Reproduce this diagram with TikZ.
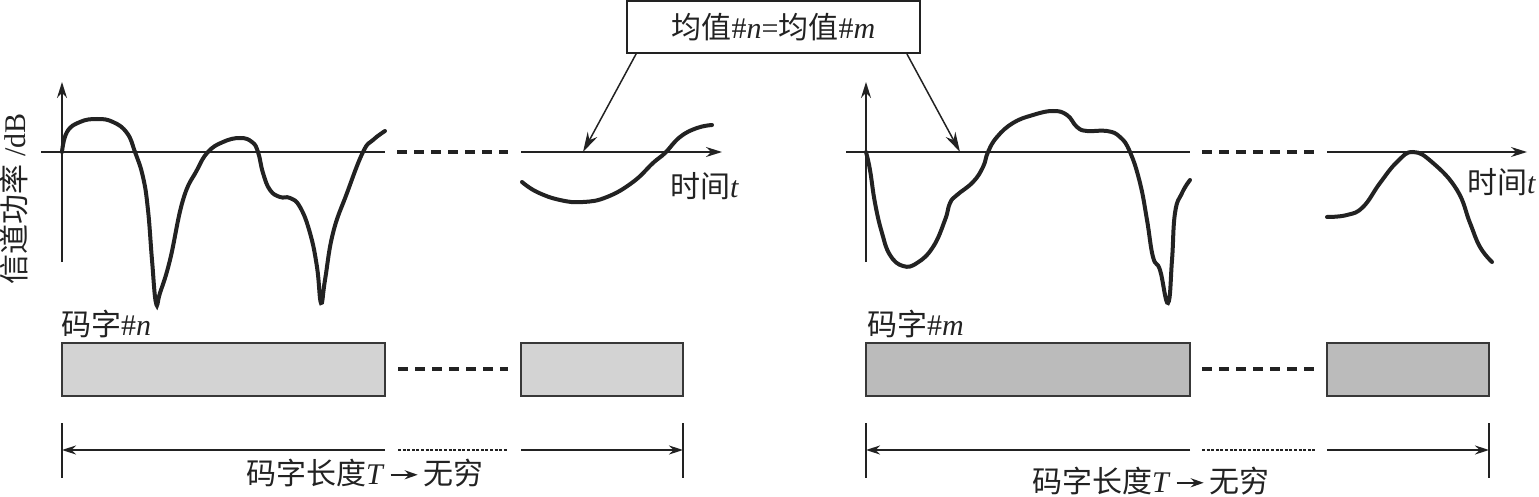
\documentclass[tikz,border=0pt]{standalone}
\usepackage{fontspec}
\setmainfont{Liberation Serif}
\newfontfamily\cjk{Noto Sans CJK SC}
\usetikzlibrary{arrows.meta,calc}
\definecolor{ink}{HTML}{222222}
\definecolor{boxa}{HTML}{D3D3D3}
\definecolor{boxb}{HTML}{BBBBBB}
\begin{document}
\begin{tikzpicture}[x=1pt,y=-1pt,
  every node/.style={font=\fontsize{30}{36}\selectfont, text=ink, inner sep=0pt},
  axisline/.style={draw=ink, line width=1.6pt},
  axisarrow/.style={axisline, -{Stealth[length=16pt,width=10pt]}},
  wave/.style={draw=ink, line width=4pt, line cap=round, smooth, tension=0.75},
  gapdash/.style={draw=ink, line width=4pt, dash pattern=on 10pt off 7pt},
  thindot/.style={draw=ink, line width=1.3pt, dash pattern=on 3pt off 1.6pt},
  wordbox/.style={draw=ink!90, line width=2.4pt},
  dimline/.style={draw=ink, line width=1.8pt},
  dimarrow/.style={dimline, -{Stealth[length=14pt,width=9pt]}},
  tick/.style={draw=ink, line width=1.8pt},
  pointer/.style={draw=ink, line width=1.5pt, -{Stealth[length=20pt,width=11pt]}}]
\useasboundingbox (0,0) rectangle (1539,497);

% ---------- top label box ----------
\node[draw=ink, line width=1.8pt, minimum width=293pt, minimum height=52pt] (mean) at (773.5,27)
  {{\cjk 均值}\#\textit{n}={\cjk 均值}\#\textit{m}};
\coordinate (pn) at (583,152);
\coordinate (pm) at (960,152);
\draw[pointer] ($(mean.south west)+(10,0)$) -- (pn);
\draw[pointer] ($(mean.south east)+(-14,0)$) -- (pm);

% ---------- left panel ----------
\node[rotate=90] (ylab) at (14,199) {{\cjk 信道功率} /dB};
\draw[axisarrow] (62,262) -- (62,82);
\draw[axisline] (41,152) -- (385,152);
\draw[gapdash] (397,152) -- (508,152);
\draw[axisarrow] (521,152) -- (722,152);
\node[anchor=west] (tl) at (670,186) {{\cjk 时间}\textit{t}};

\draw[wave] plot coordinates {(62,152) (67,132) (80,122) (97,119) (113,122) (127,133)
  (135,152) (143,177) (148,210) (152,260) (156,303) (160,293) (170,260) (183,200)
  (197,170) (208,152) (223,142) (240,138) (252,142) (258,152) (263,173) (270,190)
  (280,197) (290,198) (300,207) (310,233) (317,267) (321,303) (325,280) (333,233)
  (347,193) (363,152) (373,140) (385,131)};
\draw[wave] plot coordinates {(522,182) (537,192) (560,200) (583,202) (607,197)
  (633,182) (653,163) (665,153) (680,137) (697,128) (712,125)};

% ---------- right panel ----------
\draw[axisarrow] (866,262) -- (866,82);
\draw[axisline] (846,152) -- (1190,152);
\draw[gapdash] (1202,152) -- (1315,152);
\draw[axisarrow] (1327,152) -- (1527,152);
\node[anchor=west] (tr) at (1467,182) {{\cjk 时间}\textit{t}};

\draw[wave] plot coordinates {(866,152) (870,170) (875,203) (882,233) (890,255)
  (903,266) (917,263) (933,247) (945,220) (950,203) (957,195) (973,182) (983,167)
  (988,152) (997,137) (1013,123) (1033,115) (1053,111) (1067,115) (1077,127)
  (1087,131) (1107,131) (1120,137) (1130,152) (1140,183) (1147,220) (1153,257)
  (1160,270) (1168,303) (1172,260) (1175,213) (1182,193) (1190,180)};
\draw[wave] plot coordinates {(1327,217) (1347,215) (1363,207) (1380,183) (1397,162)
  (1413,152) (1433,163) (1457,190) (1470,223) (1480,247) (1492,262)};

% ---------- code words ----------
\node[anchor=west] (cwn) at (61,324) {{\cjk 码字}\#\textit{n}};
\node[anchor=west] (cwm) at (867,324) {{\cjk 码字}\#\textit{m}};

\draw[wordbox, fill=boxa] (62,343) rectangle (385,396);
\draw[gapdash] (398,369) -- (508,369);
\draw[wordbox, fill=boxa] (521,343) rectangle (683,396);

\draw[wordbox, fill=boxb] (866,343) rectangle (1190,396);
\draw[gapdash] (1202,369) -- (1315,369);
\draw[wordbox, fill=boxb] (1327,343) rectangle (1489,396);

% ---------- dimension lines ----------
\coordinate (la) at (62,450);  \coordinate (lb) at (683,450);
\draw[tick] (62,423) -- (62,478);
\draw[tick] (683,423) -- (683,478);
\draw[dimarrow] (385,450) -- (la);
\draw[thindot] (398,450) -- (508,450);
\draw[dimarrow] (521,450) -- (lb);
\node (dl) at (365,473) {{\cjk 码字长度}\textit{T}\,\tikz[baseline=-0.7ex]\draw[draw=ink,line width=2.2pt,-{Stealth[length=13pt,width=9pt]}] (0pt,0pt) -- (27pt,0pt);\,{\cjk 无穷}};

\coordinate (ra) at (866,450);  \coordinate (rb) at (1489,450);
\draw[tick] (866,423) -- (866,478);
\draw[tick] (1489,423) -- (1489,478);
\draw[dimarrow] (1190,450) -- (ra);
\draw[thindot] (1202,450) -- (1315,450);
\draw[dimarrow] (1327,450) -- (rb);
\node (dr) at (1151,481) {{\cjk 码字长度}\textit{T}\,\tikz[baseline=-0.7ex]\draw[draw=ink,line width=2.2pt,-{Stealth[length=13pt,width=9pt]}] (0pt,0pt) -- (27pt,0pt);\,{\cjk 无穷}};
\end{tikzpicture}
\end{document}
